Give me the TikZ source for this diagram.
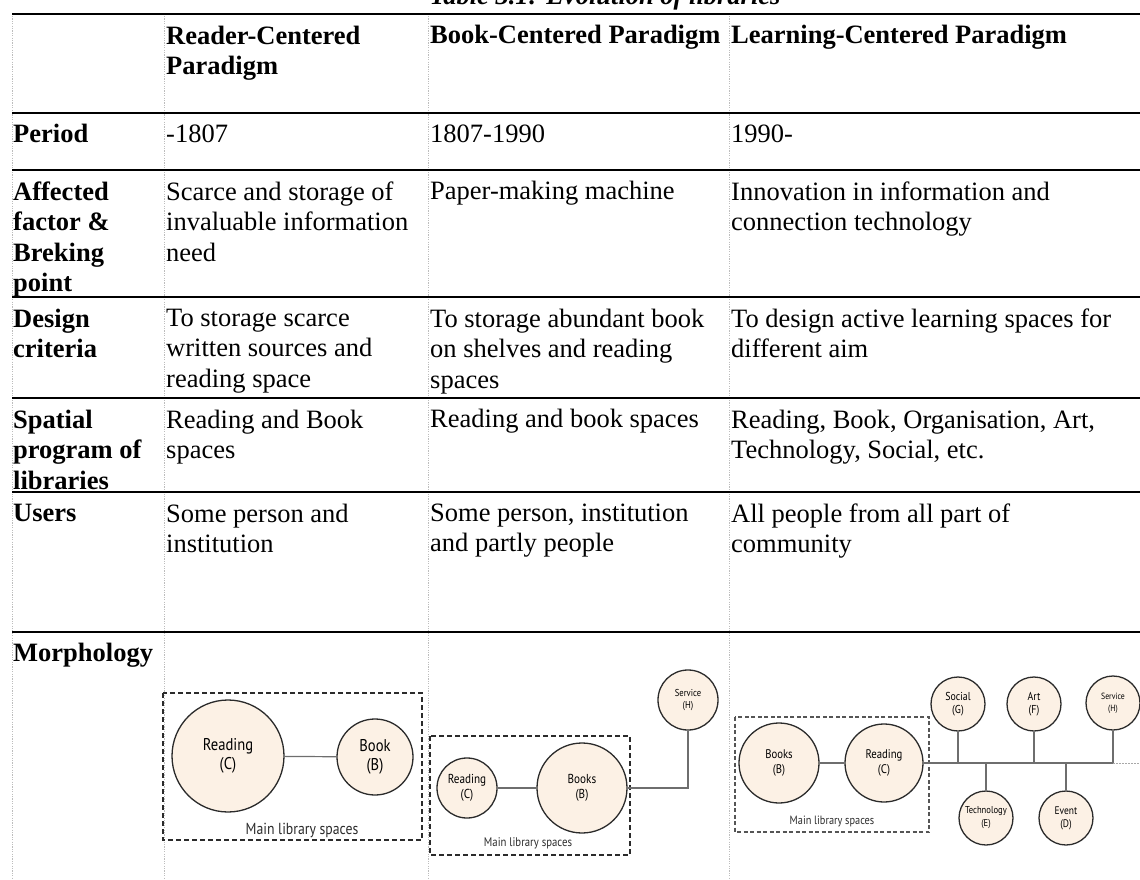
\documentclass[tikz,border=0pt]{standalone}
\usepackage{fontspec}
\setmainfont{Liberation Serif}
\newfontfamily\dgmfont[FakeStretch=0.86]{PT Sans}
\definecolor{cream}{HTML}{FCF1E5}
\definecolor{ring}{HTML}{2B2B2B}
\definecolor{linkc}{HTML}{6E6E6E}
\definecolor{colc}{HTML}{BDBDBD}
\tikzset{
  cell/.style={anchor=north west, inner sep=0pt, align=left,
    font=\fontsize{26.5}{30.5}\selectfont, execute at begin node={\rule{0pt}{21pt}}},
  hcell/.style={cell, font=\fontsize{26.5}{30.5}\selectfont\bfseries},
  multi/.style={yshift=-3.5pt},
  hrule/.style={line width=2.2pt, black},
  colline/.style={colc, line width=0.7pt, dash pattern=on 1.2pt off 1.2pt},
  space/.style={circle, draw=ring, fill=cream, line width=1.3pt, inner sep=0pt, align=center},
  mainbox/.style={draw=ring, line width=1.5pt, dash pattern=on 5pt off 3pt},
  thinbox/.style={draw=ring!80, line width=1.1pt, dash pattern=on 4pt off 2.5pt},
  boxlabel/.style={inner sep=0pt, text=ring},
  linkline/.style={draw=linkc, line width=1.2pt},
}
\begin{document}
\begin{tikzpicture}[x=1pt,y=-1pt]
\useasboundingbox (0,0) rectangle (1140,880);
% title (cut at top)
\node[anchor=base, inner sep=0pt, font=\fontsize{26.5}{30.5}\selectfont\bfseries\itshape] (title) at (605,5) {Table 3.1: Evolution of libraries};
% column lines
\foreach \cx in {12,164,428,729} \draw[colline] (\cx,16) -- (\cx,880);
% rules
\foreach \ry in {14,113,170,297,398,492,632} \draw[hrule] (12,\ry) -- (1140,\ry);
% header
\node[hcell, multi] (h2) at (166,22) {Reader-Centered\\Paradigm};
\node[hcell] (h3) at (430,22) {Book-Centered Paradigm};
\node[hcell] (h4) at (731,22) {Learning-Centered Paradigm};
% period
\node[hcell] (p1) at (13,121) {Period};
\node[cell] (p2) at (166,121) {-1807};
\node[cell] (p3) at (430,121) {1807-1990};
\node[cell] (p4) at (731,121) {1990-};
% affected
\node[hcell, multi] (a1) at (13,178) {Affected\\factor \&\\Breking\\point};
\node[cell, multi] (a2) at (166,178) {Scarce and storage of\\invaluable information\\need};
\node[cell] (a3) at (430,178) {Paper-making machine};
\node[cell, multi] (a4) at (731,178) {Innovation in information and\\connection technology};
% design
\node[hcell, multi] (c1) at (13,305) {Design\\criteria};
\node[cell, multi] (c2) at (166,305) {To storage scarce\\written sources and\\reading space};
\node[cell, multi] (c3) at (430,305) {To storage abundant book\\on shelves and reading\\spaces};
\node[cell, multi] (c4) at (731,305) {To design active learning spaces for\\different aim};
% spatial
\node[hcell, multi] (s1) at (13,406) {Spatial\\program of\\libraries};
\node[cell, multi] (s2) at (166,406) {Reading and Book\\spaces};
\node[cell] (s3) at (430,406) {Reading and book spaces};
\node[cell, multi] (s4) at (731,406) {Reading, Book, Organisation, Art,\\Technology, Social, etc.};
% users
\node[hcell] (u1) at (13,500) {Users};
\node[cell, multi] (u2) at (166,500) {Some person and\\institution};
\node[cell, multi] (u3) at (430,500) {Some person, institution\\and partly people};
\node[cell, multi] (u4) at (731,500) {All people from all part of\\community};
% morphology
\node[hcell] (m1) at (13,640) {Morphology};

% ---- diagram 1
\draw[mainbox] (163,693) rectangle (422,840);
\node[space, minimum size=112pt, font=\dgmfont\fontsize{17}{19}\selectfont] (d1r) at (228,756) {Reading\\(C)};
\node[space, minimum size=76pt, font=\dgmfont\fontsize{17}{19}\selectfont] (d1b) at (375,757) {Book\\(B)};
\draw[linkline] (d1r) -- (d1b);
\node[boxlabel, font=\dgmfont\fontsize{16}{18}\selectfont] (d1l) at (302,830) {Main library spaces};

% ---- diagram 2
\draw[mainbox] (430,736) rectangle (630,855);
\node[space, minimum size=60pt, font=\dgmfont\fontsize{13}{15}\selectfont] (d2r) at (467,788) {Reading\\(C)};
\node[space, minimum size=90pt, font=\dgmfont\fontsize{13}{15}\selectfont] (d2b) at (582,788) {Books\\(B)};
\node[space, minimum size=60pt, font=\dgmfont\fontsize{10}{12}\selectfont] (d2s) at (688,700) {Service\\(H)};
\draw[linkline] (d2r) -- (d2b);
\draw[linkline] (d2b) -- (d2b -| d2s) -- (d2s);
\node[boxlabel, font=\dgmfont\fontsize{12.5}{14}\selectfont] (d2l) at (528,843) {Main library spaces};

% ---- diagram 3
\draw[thinbox] (735,717) rectangle (929,832);
\node[space, minimum size=80pt, font=\dgmfont\fontsize{12.5}{15}\selectfont] (d3b) at (779,763) {Books\\(B)};
\node[space, minimum size=78pt, font=\dgmfont\fontsize{12.5}{15}\selectfont] (d3r) at (884,763) {Reading\\(C)};
\node[space, minimum size=54pt, font=\dgmfont\fontsize{11.5}{13}\selectfont] (d3g) at (958,704) {Social\\(G)};
\node[space, minimum size=54pt, font=\dgmfont\fontsize{11.5}{13}\selectfont] (d3f) at (1034,704) {Art\\(F)};
\node[space, minimum size=54pt, font=\dgmfont\fontsize{9}{12}\selectfont] (d3h) at (1113,703) {Service\\(H)};
\node[space, minimum size=54pt, font=\dgmfont\fontsize{10}{13}\selectfont] (d3e) at (986,818) {Technology\\(E)};
\node[space, minimum size=54pt, font=\dgmfont\fontsize{11}{13}\selectfont] (d3d) at (1066,818) {Event\\(D)};
\coordinate (bus) at (1113,763);
\coordinate (busend) at (1140,763);
\draw[linkline] (d3b) -- (d3r);
\draw[linkline] (d3r) -- (bus) -- (d3h);
\draw[linkline] (d3g) -- (d3g |- bus);
\draw[linkline] (d3f) -- (d3f |- bus);
\draw[linkline] (d3e) -- (d3e |- bus);
\draw[linkline] (d3d) -- (d3d |- bus);
\draw[linkc!60, line width=1pt, dash pattern=on 1.5pt off 1.5pt] (bus) -- (busend);
\node[boxlabel, font=\dgmfont\fontsize{12}{14}\selectfont] (d3l) at (832,821) {Main library spaces};
\end{tikzpicture}
\end{document}
